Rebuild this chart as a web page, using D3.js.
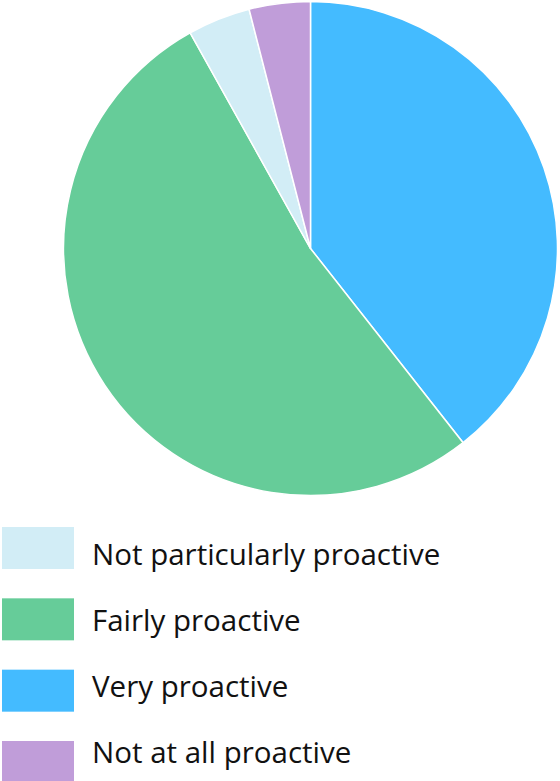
<!DOCTYPE html>
<html><head><meta charset="utf-8">
<script src="https://cdn.jsdelivr.net/npm/d3@7"></script>
<style>html,body{margin:0;padding:0;background:#fff;}svg{display:block;}</style>
</head><body><svg id="c" width="560" height="781"></svg>
<script>
const categories = ["Very proactive", "Fairly proactive", "Not particularly proactive", "Not at all proactive"];
const values = [39.4, 52.5, 4.1, 4.0];
const colors = ["#44bbff", "#66cc99", "#d2edf6", "#c09dd9"];
const legendOrder = ["Not particularly proactive", "Fairly proactive", "Very proactive", "Not at all proactive"];

const svg = d3.select("#c");
const cx = 310.5, cy = 248.5, r = 247;
const color = d3.scaleOrdinal().domain(categories).range(colors);
const data = categories.map((c, i) => ({cat: c, v: values[i]}));
const pie = d3.pie().value(d => d.v).sort(null);
const arc = d3.arc().innerRadius(0).outerRadius(r);
svg.append("g").attr("transform", `translate(${cx},${cy})`)
  .selectAll("path").data(pie(data)).join("path")
  .attr("d", arc).attr("fill", d => color(d.data.cat))
  .attr("stroke", "#fff").attr("stroke-width", 1.5);

const swY = d3.scalePoint().domain(legendOrder).range([548, 762]);
const txY = d3.scalePoint().domain(legendOrder).range([564.5, 763]);
const lg = svg.append("g");
lg.selectAll("rect").data(legendOrder).join("rect")
  .attr("x", 2).attr("y", d => swY(d) - 21).attr("width", 72).attr("height", 42)
  .attr("fill", d => color(d));
lg.selectAll("text").data(legendOrder).join("text")
  .attr("x", 92).attr("y", d => txY(d))
  .attr("font-family", "'Open Sans', sans-serif").attr("font-size", 29.5)
  .attr("fill", "#111").text(d => d);
</script></body></html>
